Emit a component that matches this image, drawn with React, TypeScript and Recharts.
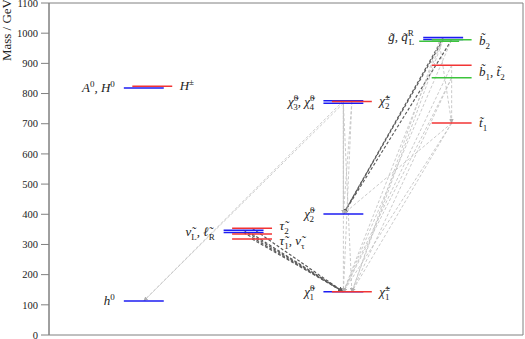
import { ComposedChart, Line, XAxis, YAxis, ReferenceArea, ReferenceDot } from "recharts";

// mass levels (GeV), one entry per state
const levelMass = [113, 818, 824, 354, 347, 340, 335, 318, 143, 143, 401, 776, 768, 774, 986, 979, 978, 973, 894, 852, 702];
// column: 1 Higgs, 2 sleptons, 3 gauginos, 4 squarks/gluino
const levelColumn = [1, 1, 1, 2, 2, 2, 2, 2, 3, 3, 3, 3, 3, 3, 4, 4, 4, 4, 4, 4, 4];
const levelKind = ["b", "b", "r", "r", "b", "b", "r", "r", "b", "r", "b", "b", "b", "r", "b", "b", "g", "gl", "r", "g", "r"];

// decays: from level index -> to level index
const decayFrom = [3, 4, 5, 6, 7, 14, 15, 16, 11, 12, 11, 12, 13, 11, 12, 13, 14, 15, 16, 17, 18, 19, 20, 20, 20, 18, 17, 19];
const decayTo = [8, 8, 8, 8, 8, 10, 10, 10, 0, 0, 10, 10, 10, 8, 9, 8, 8, 9, 8, 9, 8, 9, 8, 10, 9, 20, 20, 8];
const decayDark = [1, 1, 1, 1, 1, 1, 1, 1, 0, 0, 0, 0, 0, 0, 0, 0, 0, 0, 0, 0, 0, 0, 0, 0, 0, 0, 0, 0];

const labelText = [
  "h^{0}",
  "A^{0}, H^{0}",
  "H^{±}",
  "ν̃_{L}, ℓ̃_{R}",
  "τ̃_{2}",
  "τ̃_{1}, ν̃_{τ}",
  "χ̃^{0}_{3}, χ̃^{0}_{4}",
  "χ̃^{±}_{2}",
  "χ̃^{0}_{2}",
  "χ̃^{0}_{1}",
  "χ̃^{±}_{1}",
  "g̃, q̃^{R}_{L}",
  "b̃_{2}",
  "b̃_{1}, t̃_{2}",
  "t̃_{1}",
];
const labelLevels = [[0], [1], [2], [5], [3], [7], [11, 12], [13], [10], [8], [9], [14], [16, 17], [18, 19], [20]];
const labelSide = ["l", "l", "r", "l", "r", "r", "l", "r", "l", "l", "r", "l", "r", "r", "r"];

const yTicks = [0, 100, 200, 300, 400, 500, 600, 700, 800, 900, 1000, 1100];

const FONT = "'Liberation Serif', 'DejaVu Serif', serif";
const kindColor: Record<string, string> = { b: "#1c1cf2", r: "#f23434", g: "#3cc43c", gl: "#3cc43c" };
const kindShift: Record<string, number> = { b: 0, r: 0.085, g: 0.085, gl: -0.04 };

const levelX = (i: number) => levelColumn[i] + kindShift[levelKind[i]];

type Seg = { t?: string; sup?: string; sub?: string };

function parseLabel(s: string): Seg[] {
  const re = /\^\{([^}]*)\}(?:_\{([^}]*)\})?|_\{([^}]*)\}|([^\^_]+)/g;
  const out: Seg[] = [];
  let m;
  while ((m = re.exec(s))) {
    if (m[4] !== undefined) out.push({ t: m[4] });
    else if (m[1] !== undefined) out.push({ sup: m[1], sub: m[2] });
    else out.push({ sub: m[3] });
  }
  return out;
}

function MathText({ x, y, text, anchor }: { x: number; y: number; text: string; anchor: "start" | "end" }) {
  const segs = parseLabel(text);
  const parts: any[] = [];
  let shift = 0;
  segs.forEach((s, i) => {
    if (s.t !== undefined) {
      parts.push(
        <tspan key={i} dy={-shift} fontStyle="italic" fontSize={13}>
          {s.t}
        </tspan>
      );
      shift = 0;
    } else if (s.sup !== undefined && s.sub !== undefined) {
      const w = s.sup.length * 5;
      parts.push(
        <tspan key={i + "a"} dy={-5 - shift} fontSize={9}>
          {s.sup}
        </tspan>
      );
      parts.push(
        <tspan key={i + "b"} dx={-w} dy={9} fontSize={9}>
          {s.sub}
        </tspan>
      );
      shift = 4;
    } else if (s.sup !== undefined) {
      parts.push(
        <tspan key={i} dy={-5 - shift} fontSize={9}>
          {s.sup}
        </tspan>
      );
      shift = -5;
    } else {
      parts.push(
        <tspan key={i} dy={4 - shift} fontSize={9}>
          {s.sub}
        </tspan>
      );
      shift = 4;
    }
  });
  return (
    <text x={x} y={y} textAnchor={anchor} fontFamily={FONT} fill="#222">
      {parts}
    </text>
  );
}

export default function App() {
  return (
    <div style={{ position: "absolute", left: 0, top: 0, fontFamily: FONT }}>
      <svg width={0} height={0} style={{ position: "absolute" }}>
        <defs>
          <marker id="ahDark" viewBox="0 0 10 10" refX={10} refY={5} markerWidth={5} markerHeight={5} markerUnits="userSpaceOnUse" orient="auto">
            <path d="M0,0 L10,5 L0,10 z" fill="#5a5a5a" />
          </marker>
          <marker id="ahLight" viewBox="0 0 10 10" refX={10} refY={5} markerWidth={4} markerHeight={4} markerUnits="userSpaceOnUse" orient="auto">
            <path d="M0,0 L10,5 L0,10 z" fill="#b0b0b0" />
          </marker>
        </defs>
      </svg>
      <ComposedChart width={525} height={339} margin={{ top: 3, right: 2, bottom: 4, left: 0 }}>
        <XAxis type="number" dataKey="x" domain={[0.05, 4.8]} allowDataOverflow hide />
        <YAxis
          type="number"
          domain={[0, 1100]}
          ticks={yTicks}
          interval={0}
          allowDataOverflow
          width={49}
          tickSize={8}
          tickMargin={3}
          stroke="#808080"
          tick={{ fontSize: 10.5, fill: "#222", fontFamily: FONT }}
          label={{
            content: () => (
              <text x={11} y={-1} transform="rotate(-90, 11, -1)" textAnchor="end" fontFamily={FONT} fontSize={13} fill="#222">
                Mass / GeV
              </text>
            ),
          }}
        />
        <ReferenceArea x1={0.05} x2={4.8} y1={0} y2={1100} fill="none" stroke="#808080" strokeWidth={1} />

        {decayFrom.map((f, i) => {
          const t = decayTo[i];
          const dark = decayDark[i] === 1;
          return (
            <Line
              key={`decay-${i}`}
              data={[
                { x: levelX(f), y: levelMass[f] },
                { x: levelX(t), y: levelMass[t] },
              ]}
              dataKey="y"
              stroke={dark ? "#5a5a5a" : "#c4c4c4"}
              strokeWidth={dark ? 1.2 : 0.9}
              strokeDasharray="3 2"
              dot={false}
              activeDot={false}
              legendType="none"
              markerEnd={dark ? "url(#ahDark)" : "url(#ahLight)"}
              isAnimationActive={false}
            />
          );
        })}

        {levelMass.map((m, i) => {
          const c = levelX(i);
          return (
            <Line
              key={`level-${i}`}
              data={[
                { x: c - 0.2, y: m },
                { x: c + 0.2, y: m },
              ]}
              dataKey="y"
              stroke={kindColor[levelKind[i]]}
              strokeWidth={1.5}
              dot={false}
              activeDot={false}
              legendType="none"
              isAnimationActive={false}
            />
          );
        })}

        {labelText.map((txt, i) => {
          const lv = labelLevels[i];
          const y = lv.reduce((a, k) => a + levelMass[k], 0) / lv.length;
          const col = levelColumn[lv[0]];
          const left = labelSide[i] === "l";
          const x = left ? col - 0.29 : col + 0.36;
          // keep the two stacked stau labels apart
          const nudge = i === 4 ? -2 : i === 5 ? 2 : 0;
          return (
            <ReferenceDot
              key={`label-${i}`}
              x={x}
              y={y}
              r={0}
              fill="none"
              stroke="none"
              label={{
                content: (p: any) => {
                  const vb = p.viewBox || {};
                  return (
                    <MathText
                      x={vb.x + (vb.width || 0) / 2}
                      y={vb.y + (vb.height || 0) / 2 + 4 + nudge}
                      text={txt}
                      anchor={left ? "end" : "start"}
                    />
                  );
                },
              }}
            />
          );
        })}
      </ComposedChart>
    </div>
  );
}
